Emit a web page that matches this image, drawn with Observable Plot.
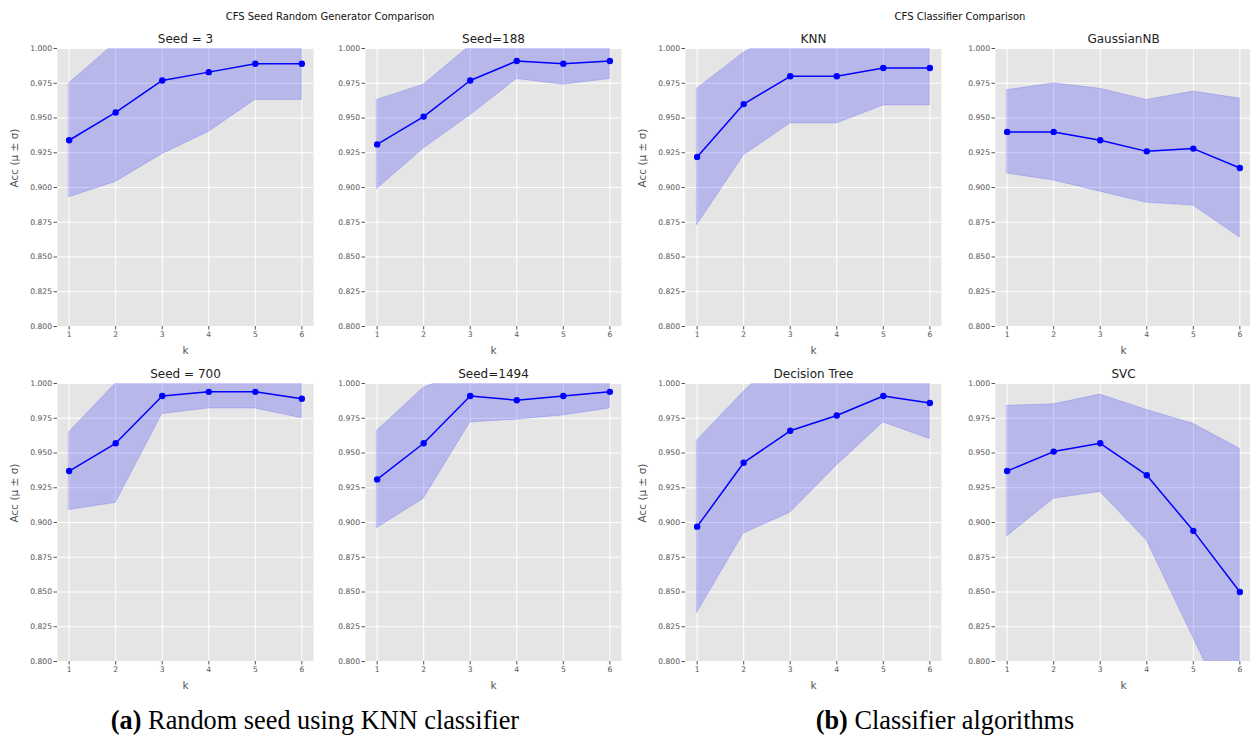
<!DOCTYPE html>
<html>
<head>
<meta charset="utf-8">
<script src="https://cdn.jsdelivr.net/npm/d3@7"></script>
<script src="https://cdn.jsdelivr.net/npm/@observablehq/plot@0.6"></script>
<style>
  html, body { margin: 0; padding: 0; background: #fff; }
  #page { position: relative; width: 1250px; height: 738px; overflow: hidden; background: #fff; }
  .abs { position: absolute; }
  .suptitle { font-family: "DejaVu Sans", sans-serif; font-size: 10px; color: #111; transform: translate(-50%, -50%); white-space: nowrap; }
  .caption { font-family: "Liberation Serif", "Times New Roman", serif; font-size: 26.3px; color: #000; transform: translate(-50%, -50%); white-space: nowrap; }
</style>
</head>
<body>
<div id="page"></div>
<script>
// Number of selected features k
const ks = [1, 2, 3, 4, 5, 6];
const yTicks = [0.8, 0.825, 0.85, 0.875, 0.9, 0.925, 0.95, 0.975, 1.0];

// KNN accuracy for several random seeds (mean and standard deviation)
const seed3Mean = [0.934, 0.954, 0.977, 0.983, 0.989, 0.989];
const seed3Std = [0.041, 0.050, 0.053, 0.043, 0.026, 0.026];
const seed188Mean = [0.931, 0.951, 0.977, 0.991, 0.989, 0.991];
const seed188Std = [0.032, 0.023, 0.025, 0.013, 0.015, 0.013];
const seed700Mean = [0.937, 0.957, 0.991, 0.994, 0.994, 0.989];
const seed700Std = [0.028, 0.043, 0.013, 0.012, 0.012, 0.014];
const seed1494Mean = [0.931, 0.957, 0.991, 0.988, 0.991, 0.994];
const seed1494Std = [0.035, 0.040, 0.019, 0.014, 0.014, 0.012];

// Accuracy per classifier (mean and standard deviation)
const knnMean = [0.922, 0.960, 0.980, 0.980, 0.986, 0.986];
const knnStd = [0.049, 0.037, 0.034, 0.034, 0.027, 0.027];
const gnbMean = [0.940, 0.940, 0.934, 0.926, 0.928, 0.914];
const gnbStd = [0.030, 0.035, 0.037, 0.037, 0.041, 0.050];
const dtMean = [0.897, 0.943, 0.966, 0.977, 0.991, 0.986];
const dtStd = [0.062, 0.051, 0.059, 0.036, 0.019, 0.026];
const svcMean = [0.937, 0.951, 0.957, 0.934, 0.894, 0.850];
const svcStd = [0.047, 0.034, 0.035, 0.047, 0.077, 0.103];

const panels = [
  {title: "Seed = 3", mean: seed3Mean, std: seed3Std, left: 57, top: 48, ylabel: true},
  {title: "Seed=188", mean: seed188Mean, std: seed188Std, left: 365, top: 48, ylabel: false},
  {title: "KNN", mean: knnMean, std: knnStd, left: 685, top: 48, ylabel: true},
  {title: "GaussianNB", mean: gnbMean, std: gnbStd, left: 995, top: 48, ylabel: false},
  {title: "Seed = 700", mean: seed700Mean, std: seed700Std, left: 57, top: 383, ylabel: true},
  {title: "Seed=1494", mean: seed1494Mean, std: seed1494Std, left: 365, top: 383, ylabel: false},
  {title: "Decision Tree", mean: dtMean, std: dtStd, left: 685, top: 383, ylabel: true},
  {title: "SVC", mean: svcMean, std: svcStd, left: 995, top: 383, ylabel: false}
];

const page = document.getElementById("page");
const mL = 50, mR = 8, mT = 30, mB = 40;
const innerW = 256, innerH = 278;

function addText(cls, text, x, y, html) {
  const d = document.createElement("div");
  d.className = "abs " + cls;
  d.style.left = x + "px";
  d.style.top = y + "px";
  if (html) d.innerHTML = text; else d.textContent = text;
  page.appendChild(d);
}

for (const p of panels) {
  const data = ks.map((k, i) => ({k, m: p.mean[i], s: p.std[i]}));
  const chart = Plot.plot({
    width: mL + innerW + mR,
    height: mT + innerH + mB,
    marginLeft: mL, marginRight: mR, marginTop: mT, marginBottom: mB,
    style: {fontFamily: "DejaVu Sans, sans-serif", fontSize: "7.6px", color: "#555", background: "transparent", overflow: "visible"},
    x: {domain: [0.75, 6.25]},
    y: {domain: [0.8, 1.0]},
    marks: [
      Plot.frame({fill: "#e5e5e5", stroke: null}),
      Plot.gridX(ks, {stroke: "white", strokeOpacity: 1, strokeWidth: 1}),
      Plot.gridY(yTicks, {stroke: "white", strokeOpacity: 1, strokeWidth: 1}),
      Plot.axisX(ks, {tickSize: 3.5, tickPadding: 2, tickFormat: "d", stroke: "#555", label: null}),
      Plot.axisY(yTicks, {tickSize: 3.5, tickPadding: 2, tickFormat: d3.format(".3f"), stroke: "#555", label: null}),
      Plot.area(data, {x1: "k", y1: d => d.m - d.s, y2: d => d.m + d.s, fill: "blue", fillOpacity: 0.2, stroke: "blue", strokeOpacity: 0.15, clip: true}),
      Plot.line(data, {x: "k", y: "m", stroke: "blue", strokeWidth: 1.5}),
      Plot.dot(data, {x: "k", y: "m", fill: "blue", r: 3.2}),
      Plot.text([p.title], {frameAnchor: "top", lineAnchor: "middle", dy: -9, fontSize: 12, fill: "#222"}),
      Plot.text(["k"], {frameAnchor: "bottom", lineAnchor: "middle", dy: 24, fontSize: 10.5, fill: "#555555"}),
      p.ylabel ? Plot.text(["Acc (μ ± σ)"], {frameAnchor: "left", lineAnchor: "middle", rotate: -90, dx: -43, fontSize: 10.5, fill: "#555555"}) : null
    ]
  });
  chart.style.position = "absolute";
  chart.style.left = (p.left - mL) + "px";
  chart.style.top = (p.top - mT) + "px";
  page.appendChild(chart);
}

addText("suptitle", "CFS Seed Random Generator Comparison", 330, 16);
addText("suptitle", "CFS Classifier Comparison", 960, 16);
addText("caption", "<b>(a)</b> Random seed using KNN classifier", 315, 721, true);
addText("caption", "<b>(b)</b> Classifier algorithms", 945, 721, true);
</script>
</body>
</html>
